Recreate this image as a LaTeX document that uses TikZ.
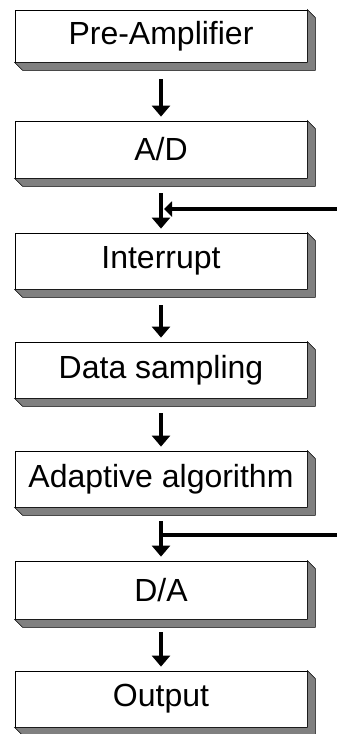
\documentclass[tikz,border=0pt]{standalone}
\usepackage{fontspec}
\setmainfont{Liberation Sans}
\usetikzlibrary{arrows.meta,calc}
\begin{document}
\begin{tikzpicture}[x=1pt,y=-1pt,
  stepbox/.style={draw=black,line width=0.8pt,fill=white,minimum width=292pt,inner sep=0pt,
    font=\fontsize{32}{37}\selectfont},
  flow/.style={line width=3.6pt,-{Triangle[width=18pt,length=11pt]},shorten <=9pt,shorten >=4pt},
  feed/.style={line width=4pt},
  shade3d/.style={fill=black!50,draw=black,line width=0.5pt}]
\useasboundingbox (0,0) rectangle (337,734);
\newcommand{\boxshade}[1]{%
  \path[shade3d] (#1.south west) -- (#1.south east) -- (#1.north east) -- ($(#1.north east)+(8,8)$)
    -- ($(#1.south east)+(8,8)$) -- ($(#1.south west)+(8,8)$) -- cycle;}
\node[stepbox,minimum height=52pt] (pre) at (161,36) {Pre-Amplifier};
\node[stepbox,minimum height=57pt] (ad) at (161,149.5) {A/D};
\node[stepbox,minimum height=56pt] (int) at (161,261) {Interrupt};
\node[stepbox,minimum height=56pt] (ds) at (161,370) {Data sampling};
\node[stepbox,minimum height=56pt] (aa) at (161,479) {Adaptive algorithm};
\node[stepbox,minimum height=58pt] (da) at (161,590) {D/A};
\node[stepbox,minimum height=56pt] (out) at (161,699) {Output};
\foreach \b in {pre,ad,int,ds,aa,da,out}{\boxshade{\b}}
\draw[flow,shorten <=17pt] (pre.south) -- (ad.north);
\draw[flow,shorten <=15pt] (ad.south) -- (int.north);
\draw[flow,shorten <=16pt] (int.south) -- (ds.north);
\draw[flow,shorten <=15pt] (ds.south) -- (aa.north);
\draw[flow,shorten <=14pt] (aa.south) -- (da.north);
\draw[flow,shorten <=13pt] (da.south) -- (out.north);
\coordinate (in1) at (337,209);
\coordinate (j1) at (161,209);
\draw[feed,-{Triangle[width=15pt,length=8pt]},shorten >=3pt] (in1) -- (j1);
\coordinate (in2) at (337,535);
\coordinate (j2) at (161,535);
\draw[feed,line width=3.6pt] (in2) -- (j2);
\end{tikzpicture}
\end{document}
